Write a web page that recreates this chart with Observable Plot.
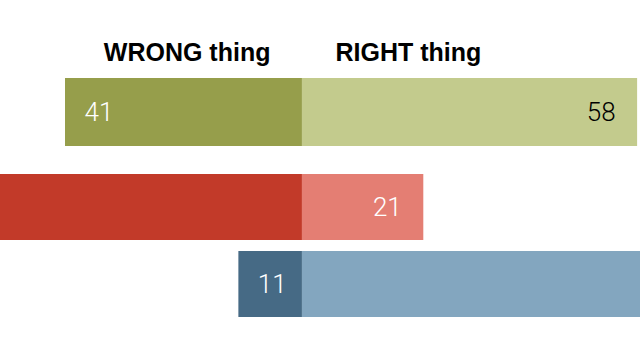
<!DOCTYPE html>
<html><head><meta charset="utf-8">
<script src="https://cdn.jsdelivr.net/npm/d3@7"></script>
<script src="https://cdn.jsdelivr.net/npm/@observablehq/plot@0.6"></script>
<style>body{margin:0;background:#fff;} svg{display:block;}</style>
</head><body><div id="chart"></div>
<script>
const groups = ["Total", "Rep/Lean Rep", "Dem/Lean Dem"];
const wrongValues = [41, 77, 11];
const rightValues = [58, 21, 87];
const headers = ["WRONG thing", "RIGHT thing"];

const darkColors = ["#969e4b", "#c23a29", "#466a85"];
const lightColors = ["#c3cb8d", "#e47e73", "#83a6bf"];
const rightLabelColors = ["#000000", "#ffffff", "#ffffff"];

const rows = groups.map((g, i) => ({
  group: g, wrong: wrongValues[i], right: rightValues[i],
  dark: darkColors[i], light: lightColors[i], rc: rightLabelColors[i]
}));

const font = "'Liberation Sans', Arial, sans-serif";
const xDomain = [-52.25, 58.5];
const xOpts = {domain: xDomain, axis: null};
const numFont = "Roboto, 'Liberation Sans', sans-serif";

function barMarks(data) {
  return [
    Plot.barX(data, {x1: d => -d.wrong, x2: d => 0, y: "group", fill: "dark", clip: true}),
    Plot.barX(data, {x1: d => 0, x2: "right", y: "group", fill: "light", clip: true}),
    Plot.text(data, {filter: d => -d.wrong >= xDomain[0], x: d => -d.wrong, y: "group", text: d => String(d.wrong), textAnchor: "start", dx: 19, fill: "#ffffff", fontSize: 26, fontWeight: 300, fontFamily: numFont}),
    Plot.text(data, {filter: d => d.right <= xDomain[1], x: "right", y: "group", text: d => String(d.right), textAnchor: "end", dx: -22, fill: "rc", fontSize: 26, fontWeight: 300, fontFamily: numFont})
  ];
}

const topChart = Plot.plot({
  width: 640, height: 146,
  marginTop: 78, marginBottom: 0, marginLeft: 0, marginRight: 0,
  style: {fontFamily: font, background: "#fff"},
  x: xOpts,
  y: {domain: groups.slice(0, 1), axis: null, padding: 0},
  marks: [
    ...barMarks(rows.slice(0, 1)),
    Plot.text([headers[0]], {x: d => 0, frameAnchor: "top", text: d => d, textAnchor: "end", lineAnchor: "bottom", dx: -32, dy: -18, fontWeight: "bold", fontSize: 25, fill: "#000"}),
    Plot.text([headers[1]], {x: d => 0, frameAnchor: "top", text: d => d, textAnchor: "start", lineAnchor: "bottom", dx: 33, dy: -18, fontWeight: "bold", fontSize: 25, fill: "#000"})
  ]
});

const bottomChart = Plot.plot({
  width: 640, height: 214,
  marginTop: 27, marginBottom: 42, marginLeft: 0, marginRight: 0,
  style: {fontFamily: font, background: "#fff"},
  x: xOpts,
  y: {domain: groups.slice(1), axis: null, paddingInner: 0.141, paddingOuter: 0},
  marks: barMarks(rows.slice(1))
});

document.getElementById("chart").append(topChart, bottomChart);
</script>
</body></html>
